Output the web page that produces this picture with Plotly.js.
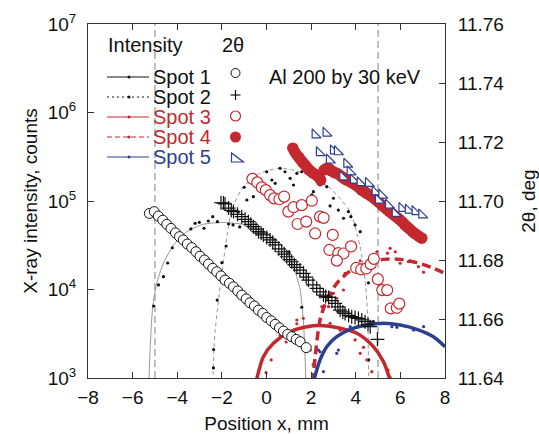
<!DOCTYPE html>
<html><head><meta charset="utf-8">
<script src="https://cdn.plot.ly/plotly-3.0.1.min.js"></script>
<style>html,body{margin:0;padding:0;background:#fff}#chart{width:539px;height:434px}</style>
</head><body><div id="chart"></div>
<script>
// ---------- data: intensity (left, log axis) ----------
const spot1FitX = [-5.27, -5.22, -5.16, -5.10, -4.92, -4.62, -4.17, -3.57, -2.83, -1.93, -0.88, 0.01, 0.76, 1.21, 1.51, 1.65, 1.72, 1.76];
const spot1FitI = [900, 2000, 4000, 6400, 11750, 19770, 31800, 45000, 54600, 57200, 53500, 43200, 30500, 18100, 9870, 4520, 2000, 900];
const spot1DotX = [-5.06, -4.84, -4.62, -4.43, -4.22, -3.39, -3.20, -3.01, -2.80, -2.61, -2.41, -2.20, -1.70, -1.20, 1.01, 1.58];
const spot1DotI = [6510, 11250, 13960, 19920, 29650, 48300, 56000, 57400, 49200, 59400, 66500, 58400, 55000, 51000, 26700, 6300];

const spot2FitX = [-2.40, -2.36, -2.30, -2.00, -1.56, -1.04, -0.29, 0.61, 1.65, 2.85, 3.75, 4.20, 4.42, 4.53, 4.58];
const spot2FitI = [900, 2000, 3480, 15350, 79000, 145000, 205600, 236000, 207000, 140000, 75200, 30500, 12800, 5380, 900];
const spot2DotX = [-2.38, -2.37, -2.21, -2.00, -1.81, -1.50, -1.27, -1.00, -0.88, -0.59, -0.29, -0.21, 0.01, 0.24, 0.39, 0.61, 0.83, 1.06, 1.21, 1.36, 1.58, 2.03, 2.10, 2.40, 2.70, 2.85, 3.00, 3.22, 3.45, 3.67, 3.78, 3.97, 4.20, 4.57, 4.79, 4.58];
const spot2DotI = [1300, 2100, 7600, 20100, 31000, 53600, 75200, 143000, 102600, 112000, 172600, 158500, 214000, 172600, 158500, 234000, 214000, 180400, 151700, 205600, 214000, 117000, 127400, 151700, 145000, 87900, 107400, 79000, 63800, 75700, 66500, 53600, 45000, 11900, 4330, 1600];

const spot3FitX = [-0.47, -0.14, 0.31, 1.06, 1.81, 2.55, 3.30, 4.05, 4.79, 5.24, 5.57];
const spot3FitI = [900, 1740, 2470, 3330, 3800, 3900, 3650, 3200, 2260, 1530, 900];
const spot3DotX = [-0.02, 0.21, 0.61, 0.88, 1.36, 1.36, 1.65, 1.96, 2.85, 3.30, 3.97, 4.20, 4.35, 4.50, 4.72, 5.45, 5.54];
const spot3DotI = [1150, 1600, 3060, 2550, 4520, 4100, 4730, 3870, 4150, 3480, 2690, 1900, 2220, 1600, 1180, 1230, 1020];

const spot4FitX = [2.07, 2.18, 2.40, 2.70, 3.15, 3.75, 4.50, 5.24, 5.99, 6.74, 7.48, 8.00];
const spot4FitI = [900, 1740, 4520, 7600, 11750, 16200, 19770, 21900, 21900, 20100, 17400, 15200];
const spot4DotX = [1.96, 2.09, 2.48, 2.78, 3.00, 3.15, 3.45, 3.52, 4.05, 4.20, 4.95, 5.42, 5.54, 5.77, 5.99, 6.36, 6.66, 6.81, 7.04];
const spot4DotI = [2070, 1420, 6400, 6400, 9060, 7960, 9870, 15200, 18900, 21100, 26700, 25700, 29200, 26700, 19800, 20600, 20300, 18100, 15700];

const spot5FitX = [2.10, 2.40, 2.70, 3.15, 3.75, 4.50, 5.24, 5.99, 6.74, 7.48, 8.00];
const spot5FitI = [900, 1600, 2260, 2930, 3550, 3970, 4150, 3970, 3550, 2930, 2260];
const spot5DotX = [2.33, 2.40, 2.55, 2.85, 3.15, 3.22, 3.75, 4.65, 5.62, 5.84, 6.59, 7.04];
const spot5DotI = [2070, 1980, 1180, 2470, 1900, 2070, 3800, 4330, 3800, 3740, 3480, 3800];

// ---------- data: 2theta (right axis) ----------
const spot1TthX = [-5.25, -5.03, -4.85, -4.65, -4.47, -4.28, -4.08, -3.90, -3.73, -3.55, -3.35, -3.16, -2.98, -2.78, -2.60, -2.41, -2.23, -2.04, -1.86, -1.66, -1.48, -1.29, -1.11, -0.91, -0.74, -0.54, -0.36, -0.17, 0.01, 0.21, 0.39, 0.58, 0.76, 0.95, 1.13, 1.33, 1.51, 1.78];
const spot1Tth = [11.6958, 11.6964, 11.6949, 11.6935, 11.6921, 11.6907, 11.6892, 11.6879, 11.6868, 11.6854, 11.6842, 11.6828, 11.6813, 11.6800, 11.6786, 11.6772, 11.6760, 11.6746, 11.6732, 11.6721, 11.6709, 11.6695, 11.6681, 11.6668, 11.6655, 11.6644, 11.6630, 11.6619, 11.6605, 11.6594, 11.6582, 11.6570, 11.6559, 11.6548, 11.6540, 11.6531, 11.6523, 11.6503];

const spot2TthX = [-2.04, -1.93, -1.86, -1.70, -1.58, -1.48, -1.30, -1.11, -0.96, -0.81, -0.70, -0.59, -0.47, -0.36, -0.24, -0.14, 0.01, 0.16, 0.28, 0.39, 0.55, 0.68, 0.80, 0.91, 1.03, 1.13, 1.25, 1.36, 1.50, 1.66, 1.78, 1.88, 2.08, 2.25, 2.40, 2.55, 2.65, 2.78, 2.93, 3.08, 3.20, 3.30, 3.42, 3.52, 3.68, 3.82, 3.97, 4.12, 4.27, 4.42, 4.55, 4.65, 4.97];
const spot2Tth = [11.6994, 11.6993, 11.6990, 11.6976, 11.6968, 11.6964, 11.6955, 11.6947, 11.6938, 11.6930, 11.6921, 11.6913, 11.6905, 11.6896, 11.6891, 11.6885, 11.6876, 11.6868, 11.6860, 11.6851, 11.6838, 11.6828, 11.6820, 11.6811, 11.6801, 11.6794, 11.6784, 11.6775, 11.6766, 11.6755, 11.6742, 11.6732, 11.6716, 11.6704, 11.6692, 11.6681, 11.6676, 11.6673, 11.6662, 11.6653, 11.6641, 11.6630, 11.6624, 11.6619, 11.6612, 11.6608, 11.6605, 11.6602, 11.6597, 11.6591, 11.6582, 11.6574, 11.6531];

const spot3TthX = [-0.63, -0.41, -0.21, -0.03, 0.16, 0.34, 0.58, 0.79, 0.98, 1.21, 1.58, 1.39, 1.78, 2.03, 2.18, 2.40, 2.56, 2.97, 2.82, 3.22, 3.45, 3.79, 3.15, 4.02, 4.24, 4.47, 4.67, 4.81, 4.99, 5.19, 5.41, 5.57, 5.84, 5.95];
const spot3Tth = [11.7075, 11.7063, 11.7046, 11.7037, 11.7020, 11.7009, 11.7006, 11.7015, 11.6964, 11.6979, 11.6986, 11.6922, 11.6930, 11.7001, 11.6890, 11.6947, 11.6943, 11.6885, 11.6834, 11.6823, 11.6822, 11.6846, 11.6798, 11.6773, 11.6768, 11.6771, 11.6786, 11.6804, 11.6735, 11.6698, 11.6698, 11.6636, 11.6638, 11.6652];

const spot4TthX = [1.18, 1.27, 1.36, 1.45, 1.54, 1.63, 1.73, 1.82, 1.92, 2.01, 2.10, 2.22, 2.33, 2.43, 2.58, 2.68, 2.78, 2.88, 2.97, 3.06, 3.15, 3.27, 3.38, 3.49, 3.60, 3.72, 3.83, 3.94, 4.05, 4.16, 4.27, 4.39, 4.50, 4.61, 4.72, 4.84, 4.95, 5.06, 5.17, 5.28, 5.39, 5.50, 5.62, 5.73, 5.84, 5.95, 6.07, 6.18, 6.29, 6.40, 6.52, 6.63, 6.74, 6.85, 6.96];
const spot4Tth = [11.7179, 11.7166, 11.7156, 11.7148, 11.7139, 11.7130, 11.7122, 11.7113, 11.7105, 11.7099, 11.7094, 11.7088, 11.7082, 11.7071, 11.7105, 11.7110, 11.7111, 11.7104, 11.7099, 11.7096, 11.7094, 11.7088, 11.7082, 11.7076, 11.7071, 11.7066, 11.7062, 11.7057, 11.7051, 11.7044, 11.7037, 11.7031, 11.7026, 11.7021, 11.7015, 11.7008, 11.7001, 11.6994, 11.6986, 11.6979, 11.6972, 11.6965, 11.6958, 11.6951, 11.6945, 11.6938, 11.6930, 11.6921, 11.6913, 11.6906, 11.6898, 11.6891, 11.6885, 11.6879, 11.6874];

const spot5TthX = [2.18, 2.67, 2.37, 3.00, 3.18, 2.82, 3.60, 3.75, 3.42, 3.90, 4.20, 4.57, 4.87, 5.17, 5.02, 5.47, 5.77, 6.07, 6.36, 6.66, 6.96];
const spot5Tth = [11.7224, 11.7230, 11.7164, 11.7170, 11.7167, 11.7139, 11.7125, 11.7099, 11.7082, 11.7071, 11.7062, 11.7060, 11.7031, 11.7020, 11.7003, 11.6986, 11.6958, 11.6975, 11.6969, 11.6964, 11.6953];

// reference positions (vertical dashed lines)
const refLinesX = [-5, 5];

// tick labels
const yTickVals = [1e3, 1e4, 1e5, 1e6, 1e7];
const yTickText = ['10<sup>3</sup>', '10<sup>4</sup>', '10<sup>5</sup>', '10<sup>6</sup>', '10<sup>7</sup>'];

// legend text
const spotNames = ['Spot 1', 'Spot 2', 'Spot 3', 'Spot 4', 'Spot 5'];

// ---------- styles ----------
const RED = '#c4282f', BLUE = '#2c3f91', BLACK = '#111111', GRAY = '#8a8a8a';
const spotColors = [BLACK, BLACK, RED, RED, BLUE];
const legendDash = ['solid', 'dot', 'solid', 'dash', 'solid'];

const traces = [
  {x: spot1FitX, y: spot1FitI, mode: 'lines', line: {color: GRAY, width: 0.9, shape: 'spline', smoothing: 0.6}},
  {x: spot1DotX, y: spot1DotI, mode: 'markers', marker: {color: BLACK, size: 3.2}},
  {x: spot2FitX, y: spot2FitI, mode: 'lines', line: {color: GRAY, width: 0.9, dash: '4px,3px', shape: 'spline', smoothing: 0.6}},
  {x: spot2DotX, y: spot2DotI, mode: 'markers', marker: {color: BLACK, size: 3.2}},
  {x: spot3FitX, y: spot3FitI, mode: 'lines', line: {color: RED, width: 3.5, shape: 'spline', smoothing: 0.8}},
  {x: spot3DotX, y: spot3DotI, mode: 'markers', marker: {color: RED, size: 3.2}},
  {x: spot4FitX, y: spot4FitI, mode: 'lines', line: {color: RED, width: 3.5, dash: '9px,5px', shape: 'spline', smoothing: 0.8}},
  {x: spot4DotX, y: spot4DotI, mode: 'markers', marker: {color: RED, size: 3.2}},
  {x: spot5FitX, y: spot5FitI, mode: 'lines', line: {color: BLUE, width: 3.5, shape: 'spline', smoothing: 0.8}},
  {x: spot5DotX, y: spot5DotI, mode: 'markers', marker: {color: BLUE, size: 3.2}},

  {x: spot1TthX, y: spot1Tth, yaxis: 'y2', mode: 'markers', marker: {symbol: 'circle', size: 10, color: 'white', line: {color: BLACK, width: 1}}},
  {x: spot2TthX, y: spot2Tth, yaxis: 'y2', mode: 'markers', marker: {symbol: 'cross-thin-open', size: 10, color: BLACK, line: {color: BLACK, width: 1.2}}},
  {x: spot3TthX, y: spot3Tth, yaxis: 'y2', mode: 'markers', marker: {symbol: 'circle', size: 11, color: 'white', line: {color: RED, width: 1.2}}},
  {x: spot4TthX, y: spot4Tth, yaxis: 'y2', mode: 'markers', marker: {symbol: 'circle', size: 11.5, color: RED, line: {width: 0}}},
  {x: spot5TthX, y: spot5Tth, yaxis: 'y2', mode: 'markers', marker: {symbol: 'triangle-sw', size: 10, color: 'white', line: {color: BLUE, width: 1.2}}}
];
traces.forEach(t => { t.showlegend = false; t.hoverinfo = 'skip'; });

// ---------- layout ----------
const PL = {l: 88, r: 445, t: 24, b: 378};
const fx = p => (p - PL.l) / (PL.r - PL.l);
const fy = p => (PL.b - p) / (PL.b - PL.t);

const shapes = [];
const annotations = [];
refLinesX.forEach(v => shapes.push({type: 'line', xref: 'x', yref: 'paper', x0: v, x1: v, y0: 0, y1: 1,
  line: {color: '#8c8c8c', width: 1.1, dash: '7px,4px'}, layer: 'below'}));

// manual two-column legend
const rowY = [77, 97, 117, 137, 157];
const symY = [73, 95, 116, 137, 158];
const symX = 235.5;
annotations.push({xref: 'paper', yref: 'paper', x: fx(106), y: fy(45), xanchor: 'left', yanchor: 'middle', showarrow: false,
  text: 'Intensity', font: {size: 20, color: BLACK}});
annotations.push({xref: 'paper', yref: 'paper', x: fx(220), y: fy(45), xanchor: 'left', yanchor: 'middle', showarrow: false,
  text: '2θ', font: {size: 20, color: BLACK}});
annotations.push({xref: 'paper', yref: 'paper', x: fx(345), y: fy(77), xanchor: 'center', yanchor: 'middle', showarrow: false,
  text: 'Al 200 by 30 keV', font: {size: 20, color: BLACK}});
spotNames.forEach((name, i) => {
  const c = spotColors[i];
  annotations.push({xref: 'paper', yref: 'paper', x: fx(151), y: fy(rowY[i]), xanchor: 'left', yanchor: 'middle', showarrow: false,
    text: name, font: {size: 20, color: c}});
  shapes.push({type: 'line', xref: 'paper', yref: 'paper', x0: fx(107), x1: fx(149), y0: fy(rowY[i]), y1: fy(rowY[i]),
    line: {color: c, width: 1, dash: legendDash[i] === 'dash' ? '5px,3px' : (legendDash[i] === 'dot' ? '2px,3px' : 'solid')}});
  shapes.push({type: 'circle', xref: 'paper', yref: 'paper', x0: fx(127.5), x1: fx(130.5), y0: fy(rowY[i] + 1.5), y1: fy(rowY[i] - 1.5),
    fillcolor: c, line: {width: 0}});
});
// 2theta column symbols
const r = 4.5;
shapes.push({type: 'circle', xref: 'paper', yref: 'paper', x0: fx(symX - r), x1: fx(symX + r), y0: fy(symY[0] + r), y1: fy(symY[0] - r),
  line: {color: BLACK, width: 1}});
shapes.push({type: 'line', xref: 'paper', yref: 'paper', x0: fx(symX - 5), x1: fx(symX + 5), y0: fy(symY[1]), y1: fy(symY[1]), line: {color: BLACK, width: 1.2}});
shapes.push({type: 'line', xref: 'paper', yref: 'paper', x0: fx(symX), x1: fx(symX), y0: fy(symY[1] - 5), y1: fy(symY[1] + 5), line: {color: BLACK, width: 1.2}});
shapes.push({type: 'circle', xref: 'paper', yref: 'paper', x0: fx(symX - 5), x1: fx(symX + 5), y0: fy(symY[2] + 5), y1: fy(symY[2] - 5),
  line: {color: RED, width: 1.2}});
shapes.push({type: 'circle', xref: 'paper', yref: 'paper', x0: fx(symX - 5.5), x1: fx(symX + 5.5), y0: fy(symY[3] + 5.5), y1: fy(symY[3] - 5.5),
  fillcolor: RED, line: {color: RED, width: 0}});
shapes.push({type: 'path', xref: 'paper', yref: 'paper',
  path: `M ${fx(symX - 4)},${fy(symY[4] - 5)} L ${fx(symX - 4)},${fy(symY[4] + 4)} L ${fx(symX + 8)},${fy(symY[4] + 4)} Z`,
  line: {color: BLUE, width: 1.2}});

const axisCommon = {ticks: 'inside', ticklen: 6, tickwidth: 1, tickcolor: '#333', showline: true, linecolor: '#333', linewidth: 1,
  showgrid: false, zeroline: false, tickfont: {size: 19, color: BLACK}};

const layout = {
  width: 539, height: 434,
  margin: {l: 88, r: 94, t: 24, b: 56, pad: 0},
  paper_bgcolor: 'white', plot_bgcolor: 'white',
  font: {family: 'Liberation Sans, Arial, Helvetica, sans-serif', size: 19, color: BLACK},
  showlegend: false,
  xaxis: Object.assign({}, axisCommon, {range: [-8, 8], tick0: -8, dtick: 2, mirror: 'ticks', ticklabelstandoff: 2,
    title: {text: 'Position x, mm', font: {size: 19}, standoff: 9}}),
  yaxis: Object.assign({}, axisCommon, {type: 'log', range: [3, 7], tickvals: yTickVals, ticktext: yTickText, ticklabelstandoff: 7,
    title: {text: 'X-ray intensity, counts', font: {size: 19}, standoff: 5}}),
  yaxis2: Object.assign({}, axisCommon, {overlaying: 'y', side: 'right', range: [11.64, 11.76], tick0: 11.64, dtick: 0.02, tickformat: '.2f',
    ticklabelstandoff: 8, title: {text: '2θ, deg', font: {size: 19}, standoff: 18}}),
  shapes: shapes,
  annotations: annotations
};

Plotly.newPlot('chart', traces, layout, {displayModeBar: false, staticPlot: true});
</script>
</body></html>
